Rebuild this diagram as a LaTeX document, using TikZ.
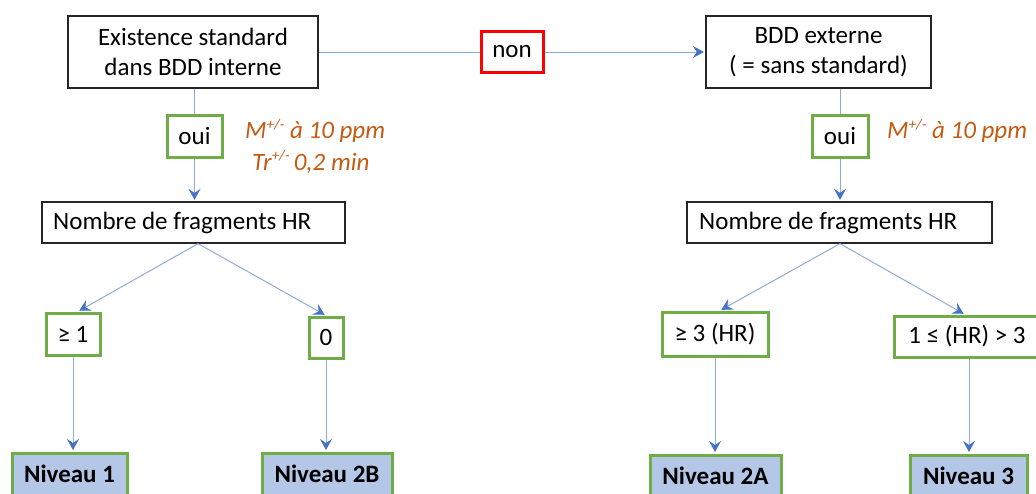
\documentclass[tikz,border=0pt]{standalone}
\usepackage{fontspec}
\setmainfont{Carlito}
\usetikzlibrary{arrows.meta,calc}
\definecolor{lineblue}{HTML}{8EAADB}
\definecolor{tipblue}{HTML}{4472C4}
\definecolor{okgreen}{HTML}{70AD47}
\definecolor{nofill}{HTML}{B4C7E7}
\definecolor{orangetxt}{HTML}{C55A11}
\newcommand{\myup}[1]{\raisebox{0.38em}{\fontsize{15}{15}\selectfont #1}}
\tikzset{
  blackbox/.style={draw=black!85, line width=1.3pt, fill=white, minimum width=#1, minimum height=72pt, align=center, inner sep=0pt},
  listbox/.style={draw=black!85, line width=1.3pt, fill=white, minimum width=#1, minimum height=41pt, inner sep=0pt},
  greenbox/.style={draw=okgreen, line width=3pt, fill=white, minimum width=#1, minimum height=42pt, inner sep=0pt},
  levelbox/.style={draw=okgreen, line width=3pt, fill=nofill, minimum width=#1, minimum height=42pt, inner sep=0pt, font=\fontsize{25}{30}\selectfont\bfseries},
  redbox/.style={draw=red, line width=3pt, fill=white, minimum width=62pt, minimum height=41pt, inner sep=0pt},
  conn/.style={draw=lineblue, line width=1pt},
  arr/.style={conn, -{Stealth[length=11pt,width=12pt,inset=4pt,color=tipblue]}, shorten >=1.5pt},
  note/.style={text=orangetxt, font=\fontsize{25}{30}\selectfont\itshape, anchor=west, inner sep=0pt}
}
\begin{document}
\begin{tikzpicture}[x=1pt,y=-1pt, font=\fontsize{25}{30}\selectfont]
\useasboundingbox (0,0) rectangle (1036,493);

% top row
\node[blackbox=250pt] (ex) at (193,52) {Existence standard\\dans BDD interne};
\node[redbox] (non) at (512,52) {non};
\node[blackbox=225pt] (bdd) at (818.5,52) {BDD externe\\( = sans standard)};

% oui boxes
\node[greenbox=55pt] (oui1) at (194.5,136) {oui};
\node[greenbox=56pt] (oui2) at (840,136) {oui};

% notes
\node[note] (m1) at (245,131) {M\myup{+/-} à 10 ppm};
\node[note] (t1) at (252,162) {Tr\myup{+/-}\,0,2 min};
\node[note] (m2) at (887,131) {M\myup{+/-} à 10 ppm};

% Nombre boxes
\node[listbox=303pt] (nb1) at (193.5,222.5) {};
\node[anchor=west, inner sep=0pt] (nb1t) at (53,222.5) {Nombre de fragments HR};
\node[listbox=305pt] (nb2) at (839.5,222.5) {};
\node[anchor=west, inner sep=0pt] (nb2t) at (699,222.5) {Nombre de fragments HR};

% criteria
\node[greenbox=54pt] (g1) at (73,334) {≥ 1};
\node[greenbox=34pt, minimum height=41pt] (z) at (326,337.5) {0};
\node[greenbox=106pt, minimum height=44pt] (g3) at (715,334) {≥ 3 (HR)};
\node[greenbox=146pt, minimum height=41pt] (r3) at (967,336.5) {1 ≤ (HR) > 3};

% levels
\node[levelbox=115pt] (n1) at (69.5,474) {Niveau 1};
\node[levelbox=130pt] (n2b) at (327,474) {Niveau 2B};
\node[levelbox=131pt] (n2a) at (715.5,476) {Niveau 2A};
\node[levelbox=117pt] (n3) at (968.5,476) {Niveau 3};

% connectors
\draw[conn] (ex.east) -- (non.west);
\draw[arr] (non.east) -- (bdd.west);
\draw[conn] (oui1.north |- ex.south) -- (oui1.north);
\draw[arr] (oui1.south) -- (oui1.south |- nb1.north);
\draw[conn] (oui2.north |- bdd.south) -- (oui2.north);
\draw[arr] (oui2.south) -- (oui2.south |- nb2.north);

\draw[arr] ([xshift=4.5pt]nb1.south) -- ([xshift=5pt]g1.north);
\draw[arr] ([xshift=4.5pt]nb1.south) -- (z.north);
\draw[arr] (g1.south) -- (g1.south |- n1.north);
\draw[arr] (z.south) -- (z.south |- n2b.north);

\draw[arr] ([xshift=0.5pt]nb2.south) -- ([xshift=5pt]g3.north);
\draw[arr] ([xshift=0.5pt]nb2.south) -- ([xshift=-2pt]r3.north);
\draw[arr] (g3.south) -- (g3.south |- n2a.north);
\draw[arr] ([xshift=2pt]r3.south) -- ([xshift=2pt]r3.south |- n3.north);
\end{tikzpicture}
\end{document}
